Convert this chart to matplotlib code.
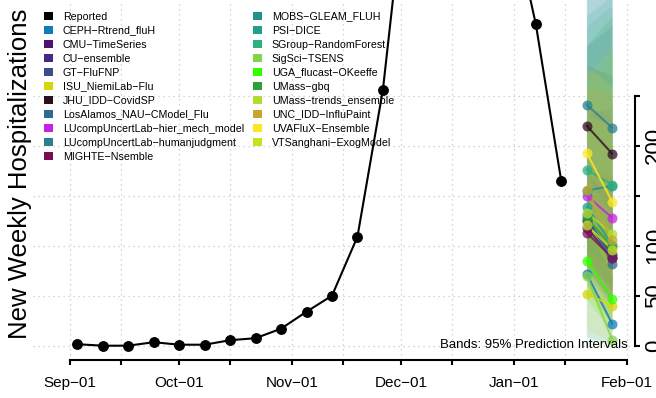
import matplotlib
matplotlib.use("Agg")
import matplotlib.pyplot as plt
import matplotlib.dates as mdates
from matplotlib.patches import Patch
import datetime as dt

plt.rcParams['font.family'] = ['Liberation Sans', 'DejaVu Sans']

# ---------------- data ----------------
reported_dates = [dt.date(2023, 9, 3) + dt.timedelta(days=7 * k) for k in range(20)]
reported_values = [1.5, 0, 0, 3.5, 1, 1, 5.5, 7.5, 17, 34, 50, 109, 256,
                   485, 560, 590, 530, 437, 322, 165]

forecast_dates = [dt.date(2024, 1, 21), dt.date(2024, 1, 28)]

models = ["CEPH-Rtrend_fluH", "CMU-TimeSeries", "CU-ensemble", "GT-FluFNP",
          "ISU_NiemiLab-Flu", "JHU_IDD-CovidSP", "LosAlamos_NAU-CModel_Flu",
          "LUcompUncertLab-hier_mech_model", "LUcompUncertLab-humanjudgment",
          "MIGHTE-Nsemble", "MOBS-GLEAM_FLUH", "PSI-DICE", "SGroup-RandomForest",
          "SigSci-TSENS", "UGA_flucast-OKeeffe", "UMass-gbq",
          "UMass-trends_ensemble", "UNC_IDD-InfluPaint", "UVAFluX-Ensemble",
          "VTSanghani-ExogModel"]
model_colors = ["#0e7cba", "#4a1470", "#48287f", "#3d4d8a", "#d2d80a", "#2d0f22",
                "#2f6b8e", "#c822e0", "#2a8090", "#7a0e55", "#1f928a", "#21a087",
                "#2bb07f", "#84d44b", "#33ff00", "#2ea03a", "#b0dd2f", "#c8a62a",
                "#fde725", "#c8e020"]
median_h1 = [72, 118, 125, 126, 52, 220, 131, 150, 241, 113, 155, 139, 176, 70, 85,
             128, 133, 156, 193, 121]
median_h2 = [22, 88, 92, 90, 40, 192, 82, 128, 218, 88, 160, 101, 161, 6, 47,
             99, 112, 106, 144, 96]
lower_h1 = [8, 75, 85, 80, 15, 170, 60, 90, 180, 70, 95, 80, 120, 2, 45,
            85, 80, 60, 120, 50]
lower_h2 = [2, 45, 55, 40, 5, 130, 20, 60, 140, 40, 80, 45, 90, 0, 15,
            55, 50, 20, 70, 10]
upper_h1 = [450, 170, 175, 230, 130, 280, 300, 240, 420, 180, 400, 330, 320, 260, 140,
            300, 270, 260, 280, 230]
upper_h2 = [480, 150, 145, 240, 140, 270, 320, 230, 440, 170, 430, 350, 340, 290, 110,
            330, 300, 250, 260, 220]

y_ticks = [0, 50, 100, 150, 200, 250]
y_ticklabels = ["0", "50", "100", "", "200", ""]
y_label = "New Weekly Hospitalizations"
band_note = "Bands: 95% Prediction Intervals"

# ---------------- figure ----------------
W, H = 656, 398
fig = plt.figure(figsize=(W / 100, H / 100), dpi=100)
ax = fig.add_axes([33 / W, (H - 360) / H, (635 - 33) / W, 360 / H])

sep1 = mdates.date2num(dt.date(2023, 9, 1))
feb1 = mdates.date2num(dt.date(2024, 2, 1))
pxday = (626.7 - 70) / (feb1 - sep1)
ax.set_xlim(sep1 - (70 - 33) / pxday, sep1 + (635 - 70) / pxday)
ax.set_ylim(345.7 - 360, 345.7)

# bands
for c, l1, l2, u1, u2 in zip(model_colors, lower_h1, lower_h2, upper_h1, upper_h2):
    ax.fill_between(forecast_dates, [l1, l2], [u1, u2], color=c, alpha=0.13, lw=0, zorder=2)

# forecast lines
for c, m1, m2 in zip(model_colors, median_h1, median_h2):
    ax.plot(forecast_dates, [m1, m2], color=c, lw=1.5, alpha=0.8, zorder=3)
    ax.plot(forecast_dates, [m1, m2], 'o', color=c, ms=7.2, mew=0, alpha=0.75, zorder=4)

# reported
ax.plot(reported_dates, reported_values, '-o', color='black', lw=1.5, ms=6.8, zorder=5)

# axes styling
for s in ['left', 'top']:
    ax.spines[s].set_visible(False)
ax.spines['bottom'].set_bounds(sep1, feb1)
ax.spines['right'].set_bounds(0, 250)
ax.spines['bottom'].set_linewidth(1.5)
ax.spines['right'].set_linewidth(1.5)

ax.xaxis.set_major_locator(mdates.MonthLocator(bymonthday=1))
ax.xaxis.set_minor_locator(mdates.MonthLocator(bymonthday=15))
ax.xaxis.set_major_formatter(mdates.DateFormatter('%b\u221201'))
ax.tick_params(axis='x', which='both', length=3.5, width=1.5, direction='out')
ax.tick_params(axis='x', which='major', labelsize=11, pad=8)

ax.yaxis.tick_right()
ax.set_yticks(y_ticks)
ax.set_yticklabels(y_ticklabels, rotation=90, fontsize=16, va='center')
ax.tick_params(axis='y', length=3.5, width=1.5, pad=3)

ax.grid(which='both', color='#c8c8c8', linestyle=(0, (1, 3)), lw=0.9)
ax.set_axisbelow(True)

fig.text(20 / W, 1 - 174 / H, y_label, rotation=90, ha='center', va='center', fontsize=18.5)

ax.text(sep1 + (628 - 70) / pxday, 0.7, band_note, ha='right', va='center', fontsize=9.5, zorder=6)

handles = [Patch(facecolor='black', edgecolor='none', label='Reported')]
for name, c in zip(models, model_colors):
    handles.append(Patch(facecolor=c, edgecolor='none', label=name.replace('-', '\u2212')))

leg_kw = dict(loc='upper left', bbox_transform=fig.transFigure, frameon=False,
              fontsize=7.7, handlelength=0.85, handleheight=0.85, handletextpad=0.9,
              labelspacing=0.375, borderpad=0, borderaxespad=0)
leg1 = ax.legend(handles=handles[:11], bbox_to_anchor=(44 / W, 1 - 11.5 / H), **leg_kw)
ax.add_artist(leg1)
leg2 = ax.legend(handles=handles[11:], bbox_to_anchor=(253 / W, 1 - 11.5 / H), **leg_kw)

fig.savefig('out.png', dpi=100)
